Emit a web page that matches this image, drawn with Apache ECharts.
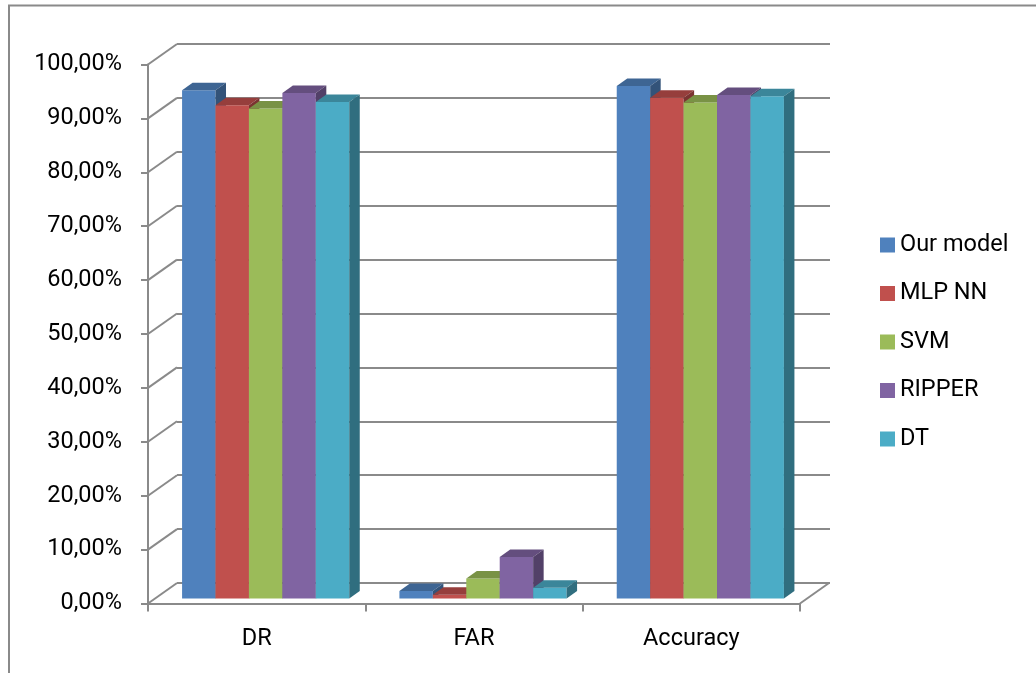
<!DOCTYPE html>
<html>
<head>
<meta charset="utf-8">
<script src="https://cdn.jsdelivr.net/npm/echarts@6/dist/echarts.min.js"></script>
<style>
  html, body { margin: 0; padding: 0; background: #ffffff; }
  #chart { width: 1036px; height: 673px; }
</style>
</head>
<body>
<div id="chart"></div>
<script>
// Metrics and models
const categories = ['DR', 'FAR', 'Accuracy'];
const modelNames = ['Our model', 'MLP NN', 'SVM', 'RIPPER', 'DT'];
const ourModel = [94.3, 1.4, 95.1];
const mlpNN    = [91.5, 0.7, 92.9];
const svm      = [90.9, 3.7, 92.0];
const ripper   = [93.8, 7.7, 93.4];
const dt       = [92.1, 2.0, 93.2];
const yTicks   = [0, 10, 20, 30, 40, 50, 60, 70, 80, 90, 100];

const seriesValues = [ourModel, mlpNN, svm, ripper, dt];
const colors = ['#4F81BD', '#C0504D', '#9BBB59', '#8064A2', '#4BACC6'];

const FONT = 'Roboto';
const FONT_SIZE = 23.5;
const LINE = '#8a8a8a';
// depth of the box (front axis -> back wall) and of each bar
const WALL_DX = 29, WALL_DY = -20.5;
const BAR_DX = 10.5, BAR_DY = -7.5;

function shade(hex, f) {
  const n = parseInt(hex.slice(1), 16);
  const r = Math.round(((n >> 16) & 255) * f);
  const g = Math.round(((n >> 8) & 255) * f);
  const b = Math.round((n & 255) * f);
  return 'rgb(' + r + ',' + g + ',' + b + ')';
}

const chart = echarts.init(document.getElementById('chart'), null, { renderer: 'canvas' });

function barSeries(si) {
  const c = colors[si];
  return {
    type: 'custom',
    name: modelNames[si],
    xAxisIndex: 2,
    yAxisIndex: 2,
    clip: false,
    itemStyle: { color: c },
    data: categories.map((_, ci) => [ci, seriesValues[si][ci]]),
    renderItem: function (params, api) {
      const ci = api.value(0);
      const v = api.value(1);
      const base = api.coord([ci, 0]);
      const top = api.coord([ci, v]);
      const catW = api.size([1, 0])[0];
      const bw = catW / 6.5;
      const x0 = base[0] - 2.5 * bw + si * bw;
      const x1 = x0 + bw;
      const yb = base[1], yt = top[1];
      return {
        type: 'group',
        children: [
          { type: 'rect', shape: { x: x0, y: yt, width: bw, height: yb - yt },
            style: { fill: c } },
          { type: 'polygon', shape: { points: [[x0, yt], [x1, yt], [x1 + BAR_DX, yt + BAR_DY], [x0 + BAR_DX, yt + BAR_DY]] },
            style: { fill: shade(c, 0.78) } },
          { type: 'polygon', shape: { points: [[x1, yt], [x1 + BAR_DX, yt + BAR_DY], [x1 + BAR_DX, yb + BAR_DY], [x1, yb]] },
            style: { fill: shade(c, 0.64) } }
        ]
      };
    }
  };
}

// Side-wall gridlines and right floor edge, tied to the front value axis
const wallSeries = {
  type: 'custom',
  name: 'wall',
  xAxisIndex: 0,
  yAxisIndex: 0,
  clip: false,
  silent: true,
  data: yTicks.map(t => [0, t]),
  renderItem: function (params, api) {
    const cs = params.coordSys;
    const y = api.coord([0, api.value(1)])[1];
    const children = [
      { type: 'line', shape: { x1: cs.x, y1: y, x2: cs.x + WALL_DX, y2: y + WALL_DY },
        style: { stroke: LINE, lineWidth: 2 } }
    ];
    if (api.value(1) === 0) {
      const xr = cs.x + cs.width;
      children.push({ type: 'line', shape: { x1: xr, y1: y, x2: xr + WALL_DX, y2: y + WALL_DY },
        style: { stroke: LINE, lineWidth: 2 } });
    }
    return { type: 'group', children: children };
  }
};

const option = {
  backgroundColor: '#ffffff',
  animation: false,
  color: colors,
  textStyle: { fontFamily: FONT },
  graphic: [
    { type: 'polyline', silent: true,
      shape: { points: [[9, 700], [9, 5.5], [1040, 5.5]] },
      style: { stroke: LINE, lineWidth: 2, fill: null } }
  ],
  legend: {
    orient: 'vertical',
    left: 880,
    top: 233,
    padding: 0,
    data: modelNames,
    icon: 'rect',
    itemWidth: 15,
    itemHeight: 15,
    itemGap: 24.5,
    textStyle: { fontFamily: FONT, fontSize: FONT_SIZE, color: '#000', lineHeight: 24 }
  },
  grid: [
    { left: 148, top: 64.5, width: 652, height: 539 },   // front axes + floor
    { left: 177, top: 44, width: 653, height: 539 },     // back wall
    { left: 157, top: 59.5, width: 652, height: 539 }    // bar plane
  ],
  xAxis: [
    { type: 'category', gridIndex: 0, data: categories, boundaryGap: true,
      axisLine: { lineStyle: { color: LINE, width: 2 } },
      axisTick: { show: true, length: 8, alignWithLabel: false, lineStyle: { color: LINE, width: 2 } },
      axisLabel: { fontFamily: FONT, fontSize: FONT_SIZE, color: '#000', margin: 24 },
      splitLine: { show: false } },
    { type: 'category', gridIndex: 1, data: categories, show: false },
    { type: 'category', gridIndex: 2, data: categories, show: false }
  ],
  yAxis: [
    { type: 'value', gridIndex: 0, min: 0, max: 100, interval: 10,
      axisLine: { show: true, lineStyle: { color: LINE, width: 2 } },
      axisTick: { show: true, length: 7, lineStyle: { color: LINE, width: 2 } },
      axisLabel: { fontFamily: FONT, fontSize: FONT_SIZE, color: '#000', margin: 26,
        formatter: v => v.toFixed(2).replace('.', ',') + '%' },
      splitLine: { show: false } },
    { type: 'value', gridIndex: 1, min: 0, max: 100, interval: 10,
      axisLine: { show: false }, axisTick: { show: false }, axisLabel: { show: false },
      splitLine: { show: true, lineStyle: { color: LINE, width: 2 } } },
    { type: 'value', gridIndex: 2, min: 0, max: 100, interval: 10, show: false,
      splitLine: { show: false } }
  ],
  series: [wallSeries].concat(modelNames.map((_, i) => barSeries(i)))
};

chart.setOption(option);
</script>
</body>
</html>
